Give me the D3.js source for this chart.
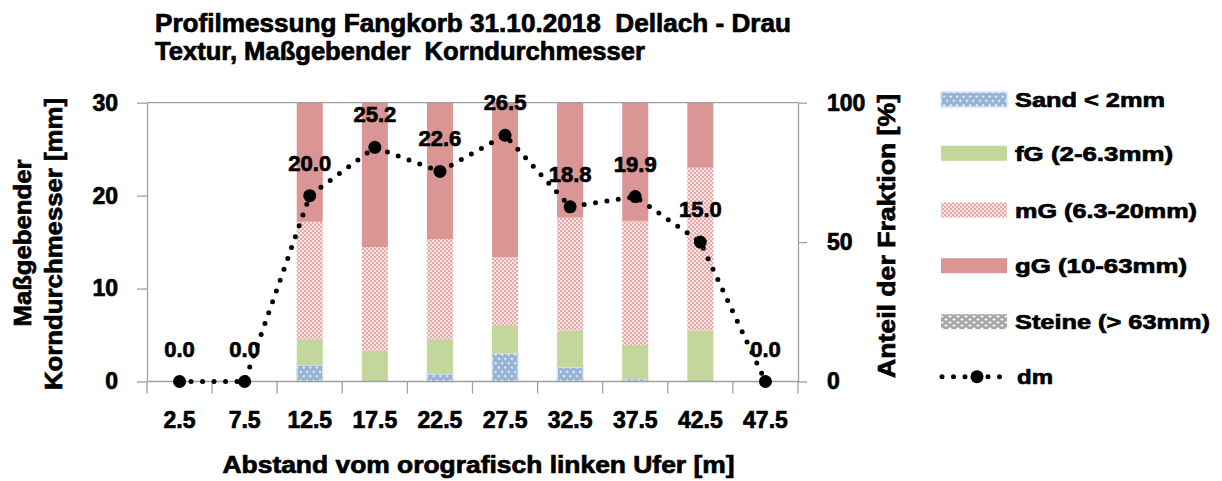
<!DOCTYPE html>
<html>
<head>
<meta charset="utf-8">
<script src="https://cdn.jsdelivr.net/npm/d3@7"></script>
<style>
  body { margin: 0; background: #fff; }
  text { font-family: "Liberation Sans", Arial, sans-serif; font-weight: bold; fill: #000;
         stroke: #000; stroke-width: 0.7px; paint-order: stroke; }
</style>
</head>
<body>
<svg id="chart" width="1222" height="481"></svg>
<script>
// Distance from the orographic left bank [m]
const categories = ["2.5", "7.5", "12.5", "17.5", "22.5", "27.5", "32.5", "37.5", "42.5", "47.5"];
// Fraction shares [%]
const sand   = [0, 0, 5.9, 0.0, 2.7, 10.1, 5.1, 1.0, 0.0, 0];
const fG     = [0, 0, 9.3, 11.0, 12.5, 10.1, 13.1, 12.1, 18.2, 0];
const mG     = [0, 0, 42.1, 37.2, 35.9, 24.4, 40.6, 44.5, 58.5, 0];
const gG     = [0, 0, 42.7, 51.8, 48.9, 55.4, 41.2, 42.4, 23.3, 0];
const steine = [0, 0, 0, 0, 0, 0, 0, 0, 0, 0];
// Governing grain diameter dm [mm]
const dm     = [0.0, 0.0, 20.0, 25.2, 22.6, 26.5, 18.8, 19.9, 15.0, 0.0];
const leftTicks  = [0, 10, 20, 30];
const rightTicks = [0, 50, 100];
const seriesNames = ["Sand < 2mm", "fG (2-6.3mm)", "mG (6.3-20mm)", "gG (10-63mm)", "Steine (> 63mm)"];

const svg = d3.select("#chart");
const plot = { left: 147, right: 798, top: 102.7, bottom: 381.5 };

// ---- patterns ----
const defs = svg.append("defs");
const pSand = defs.append("pattern").attr("id", "pat-sand").attr("patternUnits", "userSpaceOnUse")
  .attr("width", 6.5).attr("height", 8.6);
pSand.append("rect").attr("width", 6.5).attr("height", 8.6).attr("fill", "#95b3d7");
pSand.append("circle").attr("cx", 1.6).attr("cy", 2.1).attr("r", 1.05).attr("fill", "#fff");
pSand.append("circle").attr("cx", 4.85).attr("cy", 6.4).attr("r", 1.05).attr("fill", "#fff");

const pMG = defs.append("pattern").attr("id", "pat-mg").attr("patternUnits", "userSpaceOnUse")
  .attr("width", 4).attr("height", 4);
pMG.append("rect").attr("width", 4).attr("height", 4).attr("fill", "#e8a9a8");
pMG.append("circle").attr("cx", 1).attr("cy", 1).attr("r", 0.95).attr("fill", "#fff");
pMG.append("circle").attr("cx", 3).attr("cy", 3).attr("r", 0.95).attr("fill", "#fff");

const pSt = defs.append("pattern").attr("id", "pat-steine").attr("patternUnits", "userSpaceOnUse")
  .attr("width", 8).attr("height", 6);
pSt.append("rect").attr("width", 8).attr("height", 6).attr("fill", "#a6a6a6");
pSt.append("ellipse").attr("cx", 2).attr("cy", 1.5).attr("rx", 1.6).attr("ry", 1).attr("fill", "#fff");
pSt.append("ellipse").attr("cx", 6).attr("cy", 4.5).attr("rx", 1.6).attr("ry", 1).attr("fill", "#fff");

const fills = ["url(#pat-sand)", "#c3d69b", "url(#pat-mg)", "#d99694", "url(#pat-steine)"];
const strokes = ["#dce6f2", "none", "none", "none", "none"];

// ---- scales ----
const xBar = d3.scaleBand().domain(categories).range([plot.left, plot.right])
  .paddingInner(0.6).paddingOuter(0.3);
const xOuter = d3.scaleBand().domain(categories).range([plot.left, plot.right]).padding(0);
const yLeft = d3.scaleLinear().domain([0, 30]).range([plot.bottom, plot.top]);
const yRight = d3.scaleLinear().domain([0, 100]).range([plot.bottom, plot.top]);

// ---- stacked bars ----
const rows = categories.map((c, i) => ({ cat: c, s0: sand[i], s1: fG[i], s2: mG[i], s3: gG[i], s4: steine[i] }));
const keys = ["s0", "s1", "s2", "s3", "s4"];
const stacked = d3.stack().keys(keys)(rows);

svg.append("g").selectAll("g").data(stacked).join("g")
  .attr("fill", (d, i) => fills[i])
  .attr("stroke", (d, i) => strokes[i])
  .attr("stroke-width", 1.5)
  .selectAll("rect").data(d => d.filter(v => v[1] - v[0] > 0)).join("rect")
  .attr("x", d => xBar(d.data.cat))
  .attr("width", xBar.bandwidth())
  .attr("y", d => yRight(d[1]))
  .attr("height", d => yRight(d[0]) - yRight(d[1]));

// ---- frame & axes ----
const axisColor = "#a0a0a0";
svg.append("line").attr("x1", plot.left).attr("x2", plot.right)
  .attr("y1", plot.top).attr("y2", plot.top).attr("stroke", axisColor).attr("stroke-width", 1.3);

const gL = svg.append("g").attr("transform", `translate(${plot.left},0)`)
  .call(d3.axisLeft(yLeft).tickValues(leftTicks).tickSize(10).tickPadding(19).tickSizeOuter(0));
const gR = svg.append("g").attr("transform", `translate(${plot.right},0)`)
  .call(d3.axisRight(yRight).tickValues(rightTicks).tickSize(9).tickPadding(20).tickSizeOuter(0));
const gX = svg.append("g").attr("transform", `translate(0,${plot.bottom})`)
  .call(d3.axisBottom(xBar).tickSize(0).tickPadding(30).tickSizeOuter(0));

[gL, gR, gX].forEach(g => {
  g.selectAll("path, line").attr("stroke", axisColor).attr("stroke-width", 1.3);
  g.selectAll("text").style("font-size", "23px").attr("fill", "#000");
});
gX.select(".domain").attr("d", `M${plot.left},0H${plot.right}`);

// category boundary ticks
const bounds = categories.map(c => xOuter(c)).concat([plot.right]);
svg.append("g").selectAll("line").data(bounds).join("line")
  .attr("x1", d => d).attr("x2", d => d)
  .attr("y1", plot.bottom).attr("y2", plot.bottom + 12)
  .attr("stroke", axisColor).attr("stroke-width", 1.3);

// ---- dm line ----
const cx = c => xBar(c) + xBar.bandwidth() / 2;
const pts = categories.map((c, i) => [cx(c), yLeft(dm[i])]);
svg.append("path").attr("d", d3.line()(pts))
  .attr("fill", "none").attr("stroke", "#000").attr("stroke-width", 5)
  .attr("stroke-linecap", "round").attr("stroke-dasharray", "0 11.5");
svg.append("g").selectAll("circle").data(pts).join("circle")
  .attr("cx", d => d[0]).attr("cy", d => d[1]).attr("r", 6.5).attr("fill", "#000");
svg.append("g").selectAll("text").data(categories).join("text")
  .attr("x", c => cx(c)).attr("y", (c, i) => yLeft(dm[i]) - 25)
  .attr("text-anchor", "middle").style("font-size", "22px")
  .text((c, i) => dm[i].toFixed(1));

// ---- titles ----
const fitText = (sel, w) => sel.attr("textLength", w).attr("lengthAdjust", "spacingAndGlyphs");
fitText(svg.append("text").attr("x", 155).attr("y", 31.5).style("font-size", "25px")
  .style("white-space", "pre").text("Profilmessung Fangkorb 31.10.2018  Dellach - Drau"), 636);
fitText(svg.append("text").attr("x", 155).attr("y", 60).style("font-size", "25px")
  .style("white-space", "pre").text("Textur, Maßgebender  Korndurchmesser"), 490);

fitText(svg.append("text").attr("x", 478.5).attr("y", 473).attr("text-anchor", "middle")
  .style("font-size", "23px").text("Abstand vom orografisch linken Ufer [m]"), 512);

fitText(svg.append("text").attr("transform", "translate(31,243) rotate(-90)")
  .attr("text-anchor", "middle").style("font-size", "24px").text("Maßgebender"), 167);
fitText(svg.append("text").attr("transform", "translate(62,244) rotate(-90)")
  .attr("text-anchor", "middle").style("font-size", "24px").text("Korndurchmesser [mm]"), 292);
fitText(svg.append("text").attr("transform", "translate(895,236) rotate(-90)")
  .attr("text-anchor", "middle").style("font-size", "23px").text("Anteil der Fraktion [%]"), 284);

// ---- legend ----
const legY = [99.5, 153.3, 210, 265.7, 321.7];
const legW = [150, 158, 182, 172, 195];
const leg = svg.append("g");
seriesNames.forEach((name, i) => {
  leg.append("rect").attr("x", 941).attr("y", legY[i] - 7.5).attr("width", 66).attr("height", 15)
    .attr("fill", fills[i]).attr("stroke", strokes[i]).attr("stroke-width", 1.5);
  fitText(leg.append("text").attr("x", 1015).attr("y", legY[i] + 7.5)
    .style("font-size", "21px").text(name), legW[i]);
});
const dmY = 376.7;
leg.append("path").attr("d", d3.line()([[942, dmY], [1003, dmY]]))
  .attr("stroke", "#000").attr("stroke-width", 5).attr("stroke-linecap", "round")
  .attr("stroke-dasharray", "0 11.5");
leg.append("circle").attr("cx", 977).attr("cy", dmY).attr("r", 6.5).attr("fill", "#000");
fitText(leg.append("text").attr("x", 1017).attr("y", dmY + 7.5).style("font-size", "21px").text("dm"), 36);
</script>
</body>
</html>
